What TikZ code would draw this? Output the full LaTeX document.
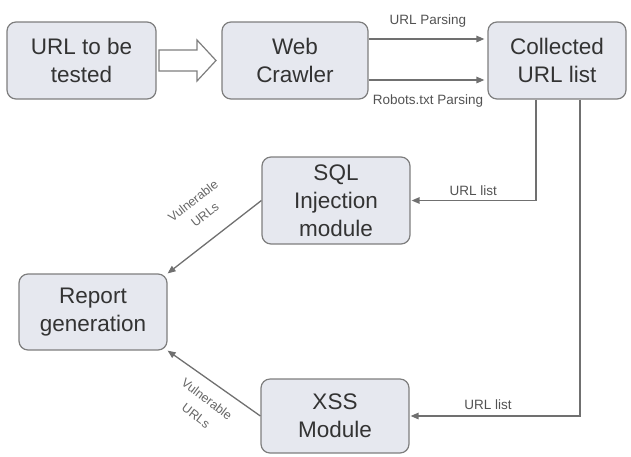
\documentclass[tikz,border=0pt]{standalone}
\usepackage{fontspec}
\setmainfont{Liberation Sans}
\usetikzlibrary{arrows.meta,calc}
\definecolor{boxfill}{HTML}{E6E8EF}
\definecolor{boxline}{HTML}{7E7E7E}
\definecolor{txt}{HTML}{333333}
\definecolor{lin}{HTML}{707070}
\begin{document}
\begin{tikzpicture}[x=1pt,y=-1pt,
  box/.style={draw=boxline,fill=boxfill,line width=1.2pt,rounded corners=9pt,
    minimum height=#1,inner sep=0pt,align=center,text=txt,
    font=\fontsize{22.5}{28}\selectfont},
  box/.default=77pt,
  arr/.style={draw=lin,line width=1.3pt,-{Triangle[length=8pt,width=6.5pt]}},
  lbl/.style={text=txt!85,font=\fontsize{13.5}{15}\selectfont,inner sep=0pt},
  vlbl/.style={text=txt!75,font=\fontsize{12.5}{14}\selectfont,inner sep=0pt}]
\useasboundingbox (0,0) rectangle (631,456);
\node[box,minimum width=149pt] (url) at (81.5,60.5) {URL to be\\tested};
\node[box,minimum width=146pt] (web) at (295,60.5) {Web\\Crawler};
\node[box,minimum width=138pt] (col) at (557,60.5) {Collected\\URL list};
\node[box=87pt,minimum width=148pt] (sql) at (336,200.5) {SQL\\Injection\\module};
\node[box=76pt,minimum width=148pt] (rep) at (93,312) {Report\\generation};
\node[box=74pt,minimum width=148pt] (xss) at (335,416) {XSS\\Module};
% block arrow
\draw[draw=boxline,fill=white,line width=1.2pt,line join=miter]
  (159,50) -- (197,50) -- (197,40) -- (216,60.5) -- (197,81) -- (197,71) -- (159,71) -- cycle;
% parsing arrows
\draw[arr,shorten >=3pt] ([yshift=21.5pt]web.east) -- ([yshift=21.5pt]col.west)
  node[lbl,pos=0.5,above=11pt] (up) {URL Parsing};
\draw[arr,shorten >=3pt] ([yshift=-19.5pt]web.east) -- ([yshift=-19.5pt]col.west)
  node[lbl,pos=0.5,below=14pt] (rp) {Robots.txt Parsing};
% url list arrows
\draw[arr,shorten >=1pt] ([xshift=-21pt]col.south) |- (sql.east)
  node[lbl,pos=0.75,above=4pt] (ul1) {URL list};
\draw[arr,shorten >=1pt] ([xshift=23pt]col.south) |- (xss.east)
  node[lbl,pos=0.77,above=6pt] (ul2) {URL list};
% to report
\draw[arr] (sql.west) -- (rep.north east);
\draw[arr] (xss.west) -- (rep.south east);
\node[vlbl,rotate=38] (v1a) at (193,201) {Vulnerable};
\node[vlbl,rotate=38] (v1b) at (205,215) {URLs};
\node[vlbl,rotate=-37] (v2a) at (207,399) {Vulnerable};
\node[vlbl,rotate=-37] (v2b) at (196,416) {URLs};
\end{tikzpicture}
\end{document}
